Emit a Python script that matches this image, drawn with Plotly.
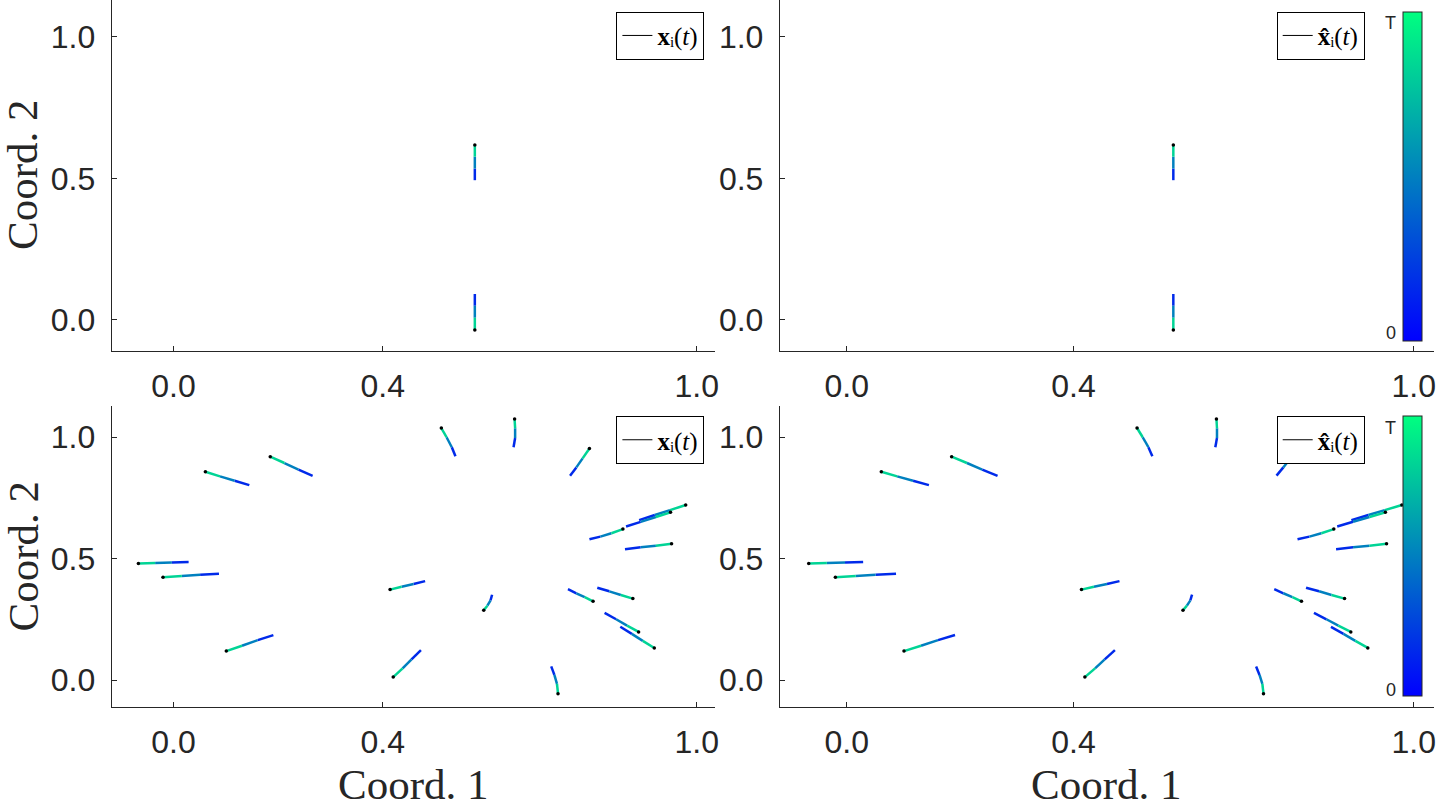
import plotly.graph_objects as go

W, H = 1440, 810

# ---------------- data ----------------
# time fractions of the sampled points along each trajectory (0 .. T)
time_frac = [0.0, 1 / 3, 2 / 3, 1.0]

# top row: two agents, Coord. 1 / Coord. 2 at t = 0, T/3, 2T/3, T
top_c1 = [
    [0.576, 0.576, 0.576, 0.576],
    [0.576, 0.576, 0.576, 0.576],
]
top_c2 = [
    [0.494, 0.535, 0.577, 0.618],
    [0.092, 0.050, 0.008, -0.035],
]

# bottom row: twenty agents, Coord. 1 / Coord. 2 at t = 0, T/3, 2T/3, T
bottom_c1 = [
    [0.145, 0.117, 0.089, 0.061],
    [0.266, 0.239, 0.212, 0.185],
    [0.029, -0.003, -0.035, -0.067],
    [0.087, 0.051, 0.016, -0.020],
    [0.191, 0.161, 0.131, 0.101],
    [0.539, 0.532, 0.522, 0.512],
    [0.650, 0.653, 0.653, 0.652],
    [0.758, 0.770, 0.782, 0.795],
    [0.481, 0.459, 0.436, 0.414],
    [0.609, 0.606, 0.600, 0.593],
    [0.473, 0.455, 0.438, 0.420],
    [0.722, 0.728, 0.733, 0.735],
    [0.754, 0.770, 0.786, 0.802],
    [0.810, 0.833, 0.855, 0.878],
    [0.824, 0.846, 0.867, 0.889],
    [0.854, 0.876, 0.897, 0.919],
    [0.863, 0.893, 0.922, 0.952],
    [0.795, 0.816, 0.837, 0.859],
    [0.865, 0.893, 0.922, 0.950],
    [0.890, 0.920, 0.949, 0.979],
]
bottom_c2 = [
    [0.802, 0.820, 0.838, 0.857],
    [0.840, 0.866, 0.893, 0.919],
    [0.486, 0.484, 0.482, 0.480],
    [0.437, 0.433, 0.428, 0.423],
    [0.185, 0.164, 0.141, 0.119],
    [0.921, 0.958, 0.999, 1.037],
    [0.958, 0.996, 1.036, 1.074],
    [0.841, 0.875, 0.912, 0.953],
    [0.407, 0.395, 0.384, 0.372],
    [0.351, 0.328, 0.306, 0.287],
    [0.123, 0.085, 0.048, 0.012],
    [0.056, 0.021, -0.016, -0.056],
    [0.374, 0.357, 0.341, 0.324],
    [0.380, 0.365, 0.350, 0.335],
    [0.276, 0.250, 0.224, 0.198],
    [0.219, 0.190, 0.161, 0.132],
    [0.538, 0.546, 0.553, 0.561],
    [0.579, 0.590, 0.604, 0.621],
    [0.632, 0.651, 0.671, 0.690],
    [0.658, 0.679, 0.699, 0.720],
]

# the estimated trajectories (right column) coincide with the true ones in the picture
top_hat_c1, top_hat_c2 = top_c1, top_c2
bottom_hat_c1, bottom_hat_c2 = bottom_c1, bottom_c2

x_ticks = [0.0, 0.4, 1.0]
x_tick_text = ["0.0", "0.4", "1.0"]
y_ticks = [0.0, 0.5, 1.0]
y_tick_text = ["0.0", "0.5", "1.0"]
cbar_tick_text = ["0", "T"]

legend_true = "<b>x</b>\u1d62(<i>t</i>)"
legend_hat = "<b>x\u0302</b>\u1d62(<i>t</i>)"

# ---------------- styling ----------------
AX = "#262626"
SANS = "Liberation Sans, Arial, sans-serif"
SERIF = "Liberation Serif, DejaVu Serif, Times New Roman, serif"


def winter(t):
    return f"rgb(0,{round(255 * t)},{round(255 - 127.5 * t)})"


WINTER = [[0.0, winter(0.0)], [1.0, winter(1.0)]]


def px(xp):
    return xp / W


def py(yp):
    return 1 - yp / H


# panel boxes in pixels: (left, right, top, bottom)
panels = {
    1: (111.7, 715.0, 0.0, 350.7),
    2: (779.8, 1433.6, 0.0, 350.7),
    3: (111.7, 715.0, 406.0, 707.0),
    4: (779.8, 1433.6, 406.0, 707.0),
}
x_range = [-0.118, 1.035]
y_ranges = {1: [-0.1085, 1.1307], 2: [-0.1085, 1.1307], 3: [-0.111, 1.1276], 4: [-0.111, 1.1276]}

fig = go.Figure()


def add_panel(i, c1, c2, label, legend_id):
    xa = "x" if i == 1 else f"x{i}"
    ya = "y" if i == 1 else f"y{i}"
    for k in range(len(time_frac) - 1):
        xs, ys = [], []
        for tx, ty in zip(c1, c2):
            xs += [tx[k], tx[k + 1], None]
            ys += [ty[k], ty[k + 1], None]
        tmid = 0.5 * (time_frac[k] + time_frac[k + 1])
        fig.add_trace(go.Scatter(
            x=xs, y=ys, mode="lines", xaxis=xa, yaxis=ya,
            line=dict(color=winter(tmid), width=2.5),
            showlegend=False, hoverinfo="skip"))
    fig.add_trace(go.Scatter(
        x=[tx[-1] for tx in c1], y=[ty[-1] for ty in c2], mode="markers",
        xaxis=xa, yaxis=ya, marker=dict(color="black", size=3.5),
        showlegend=False, hoverinfo="skip"))
    fig.add_trace(go.Scatter(
        x=[None], y=[None], mode="lines", xaxis=xa, yaxis=ya,
        line=dict(color="black", width=1), name=label,
        legend=legend_id, showlegend=True))


add_panel(1, top_c1, top_c2, legend_true, "legend")
add_panel(2, top_hat_c1, top_hat_c2, legend_hat, "legend2")
add_panel(3, bottom_c1, bottom_c2, legend_true, "legend3")
add_panel(4, bottom_hat_c1, bottom_hat_c2, legend_hat, "legend4")

# colour bars (time 0 .. T)
cb_boxes = {2: (11.7, 340.7), 4: (416.0, 696.0)}
for i, (top, bot) in cb_boxes.items():
    fig.add_trace(go.Scatter(
        x=[None], y=[None], mode="markers", xaxis=f"x{i}", yaxis=f"y{i}",
        showlegend=False, hoverinfo="skip",
        marker=dict(color=[0.0], colorscale=WINTER, cmin=-0.025, cmax=1.036,
                    showscale=True,
                    colorbar=dict(x=px(1403), xanchor="left", y=py(top), yanchor="top",
                                  len=bot - top, lenmode="pixels", thickness=19,
                                  thicknessmode="pixels", xpad=0, ypad=0,
                                  outlinewidth=1, outlinecolor=AX,
                                  showticklabels=False, ticks=""))))

layout = dict(
    width=W, height=H, margin=dict(l=0, r=0, t=0, b=0, autoexpand=False),
    paper_bgcolor="white", plot_bgcolor="white", showlegend=True,
)

for i, (l, r, t, b) in panels.items():
    sx = "" if i == 1 else str(i)
    layout[f"xaxis{sx}"] = dict(
        domain=[px(l), px(r)], range=x_range, anchor=f"y{sx}",
        showline=True, linecolor=AX, linewidth=1, mirror=False,
        ticks="inside", ticklen=5, tickcolor=AX, tickwidth=1,
        tickvals=x_ticks, ticktext=x_tick_text, showgrid=False, zeroline=False,
        tickfont=dict(family=SANS, size=32, color=AX), ticklabelstandoff=7,
    )
    layout[f"yaxis{sx}"] = dict(
        domain=[py(b), py(t)], range=y_ranges[i], anchor=f"x{sx}",
        showline=True, linecolor=AX, linewidth=1, mirror=False,
        ticks="inside", ticklen=5, tickcolor=AX, tickwidth=1,
        tickvals=y_ticks, ticktext=y_tick_text, showgrid=False, zeroline=False,
        tickfont=dict(family=SANS, size=32, color=AX), ticklabelstandoff=9,
    )

legend_pos = {"legend": (704.4, 11.7), "legend2": (1364.7, 11.7),
              "legend3": (704.4, 416.0), "legend4": (1364.7, 416.0)}
for name, (xr, yt) in legend_pos.items():
    layout[name] = dict(
        x=px(xr), xanchor="right", y=py(yt), yanchor="top",
        bgcolor="white", bordercolor="black", borderwidth=1,
        font=dict(family=SERIF, size=25, color="black"),
        itemwidth=30, tracegroupgap=0,
    )

annotations = [
    dict(text="Coord. 2", x=px(23), y=py(175), xref="paper", yref="paper",
         textangle=-90, showarrow=False, xanchor="center", yanchor="middle",
         font=dict(family=SERIF, size=43, color=AX)),
    dict(text="Coord. 2", x=px(23), y=py(556.5), xref="paper", yref="paper",
         textangle=-90, showarrow=False, xanchor="center", yanchor="middle",
         font=dict(family=SERIF, size=43, color=AX)),
    dict(text="Coord. 1", x=px(413.4), y=py(784), xref="paper", yref="paper",
         showarrow=False, xanchor="center", yanchor="middle",
         font=dict(family=SERIF, size=43, color=AX)),
    dict(text="Coord. 1", x=px(1106.7), y=py(784), xref="paper", yref="paper",
         showarrow=False, xanchor="center", yanchor="middle",
         font=dict(family=SERIF, size=43, color=AX)),
]
shapes = []
cb_ticks = {2: (333.0, 23.3), 4: (690.0, 428.0)}
for i, (y0, yT) in cb_ticks.items():
    for yy, txt in zip((y0, yT), cbar_tick_text):
        annotations.append(dict(
            text=txt, x=px(1398), y=py(yy), xref="paper", yref="paper",
            showarrow=False, xanchor="right", yanchor="middle",
            font=dict(family=SANS, size=18, color=AX)))
        shapes.append(dict(type="line", xref="paper", yref="paper",
                           x0=px(1403), x1=px(1407), y0=py(yy), y1=py(yy),
                           line=dict(color=AX, width=1)))
layout["annotations"] = annotations
layout["shapes"] = shapes

fig.update_layout(**layout)
fig.write_html("out.html", config={"displayModeBar": False},
               post_script="document.body.style.margin='0';document.body.style.overflow='hidden';")
